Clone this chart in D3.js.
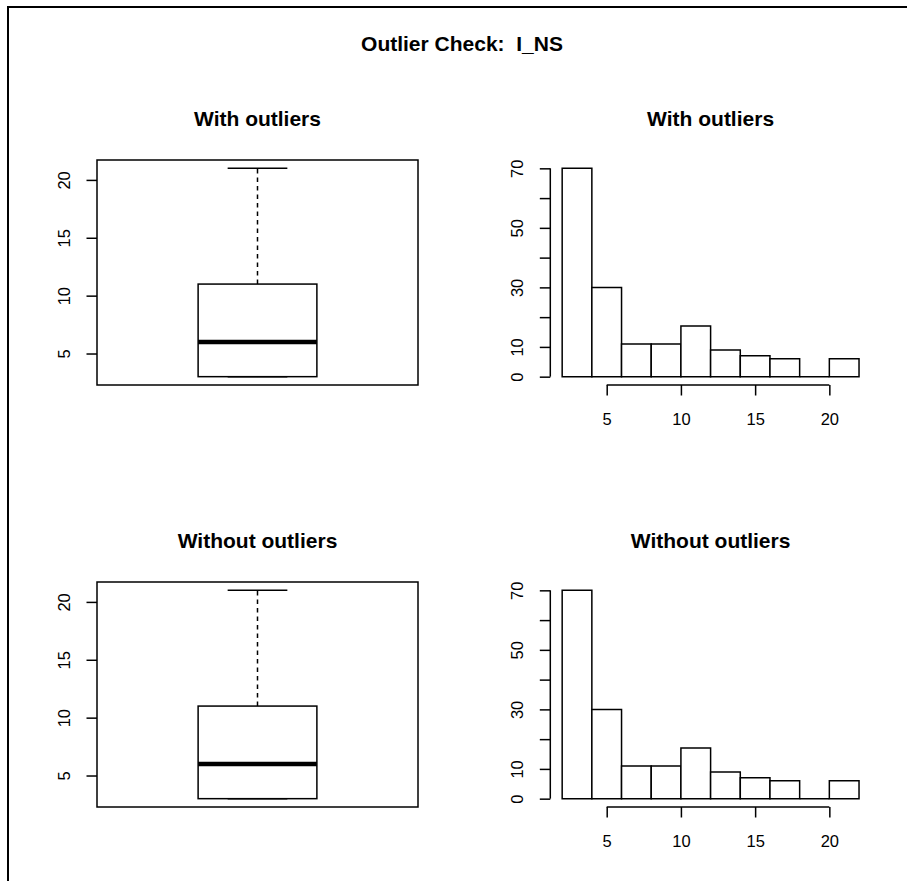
<!DOCTYPE html>
<html>
<head>
<meta charset="utf-8">
<script src="https://cdn.jsdelivr.net/npm/d3@7"></script>
<style>
  body { margin: 0; background: #fff; }
  svg text { font-family: "Liberation Sans", Arial, Helvetica, sans-serif; fill: #000; }
</style>
</head>
<body>
<svg id="viz"></svg>
<script>
var width = 907;
var height = 881;

// ---- data ----
var mainTitle = "Outlier Check:  I_NS";
var panelTitles = ["With outliers", "Without outliers"];

// five-number summaries: lower whisker, Q1, median, Q3, upper whisker
var boxWith = [3, 3, 6, 11, 21];
var boxWithout = [3, 3, 6, 11, 21];
var boxTicks = [5, 10, 15, 20];

// histogram bins
var histBreaks = [2, 4, 6, 8, 10, 12, 14, 16, 18, 20, 22];
var histWith = [70, 30, 11, 11, 17, 9, 7, 6, 0, 6];
var histWithout = [70, 30, 11, 11, 17, 9, 7, 6, 0, 6];
var histYTicks = [0, 10, 20, 30, 40, 50, 60, 70];
var histYLabels = [0, 10, 30, 50, 70];
var histXTicks = [5, 10, 15, 20];

var rows = [
  { title: panelTitles[0], box: boxWith, counts: histWith },
  { title: panelTitles[1], box: boxWithout, counts: histWithout }
];

var rowStep = 422;
var plotTop = 160, plotBottom = 385;
var boxLeft = 97, boxRight = 418;
var histLeft = 550.3, histRight = 870.9;
var tickLen = 10.5;
var lw = 1.5;

var svg = d3.select("#viz")
  .attr("width", width)
  .attr("height", height);

// outer frame (only top and left edges show in the picture)
svg.append("path")
  .attr("d", `M8,${height} L8,7 L${width},7`)
  .attr("fill", "none")
  .attr("stroke", "#000")
  .attr("stroke-width", 2);

svg.append("text")
  .attr("x", 462)
  .attr("y", 51)
  .attr("text-anchor", "middle")
  .style("font-size", "21px")
  .style("font-weight", "bold")
  .style("white-space", "pre")
  .text(mainTitle);

function rotateYLabels(g) {
  g.selectAll(".tick text")
    .attr("x", null)
    .attr("dy", null)
    .attr("y", 0)
    .attr("text-anchor", "middle")
    .attr("transform", "translate(-27,0) rotate(-90)")
    .style("font-size", "16.5px");
}

function styleTicks(g) {
  g.selectAll(".tick line").attr("stroke", "#000").attr("stroke-width", lw);
  g.select(".domain").remove();
}

function drawBoxplot(g, stats, title) {
  var lo = d3.min(stats), hi = d3.max(stats);
  var pad = (hi - lo) * 0.04;
  var y = d3.scaleLinear().domain([lo - pad, hi + pad]).range([plotBottom, plotTop]);
  var x = d3.scaleLinear().domain([0, 1]).range([boxLeft, boxRight]);

  g.append("text")
    .attr("x", (boxLeft + boxRight) / 2)
    .attr("y", 126)
    .attr("text-anchor", "middle")
    .style("font-size", "21px")
    .style("font-weight", "bold")
    .text(title);

  var ax = g.append("g")
    .attr("transform", `translate(${boxLeft},0)`)
    .call(d3.axisLeft(y).tickValues(boxTicks).tickSize(tickLen).tickSizeOuter(0).tickFormat(d3.format("d")));
  styleTicks(ax);
  rotateYLabels(ax);

  var halfBox = 0.185, halfCap = 0.093;
  var stroke = s => s.attr("stroke", "#000").attr("stroke-width", lw).attr("fill", "none");

  // whiskers
  g.append("line").call(stroke)
    .attr("x1", x(0.5)).attr("x2", x(0.5))
    .attr("y1", y(stats[3])).attr("y2", y(stats[4]))
    .attr("stroke-dasharray", "4.5,4");
  g.append("line").call(stroke)
    .attr("x1", x(0.5)).attr("x2", x(0.5))
    .attr("y1", y(stats[0])).attr("y2", y(stats[1]))
    .attr("stroke-dasharray", "4.5,4");
  // staples
  [stats[0], stats[4]].forEach(v => {
    g.append("line").call(stroke)
      .attr("x1", x(0.5 - halfCap)).attr("x2", x(0.5 + halfCap))
      .attr("y1", y(v)).attr("y2", y(v));
  });
  // box
  g.append("rect").call(stroke)
    .attr("x", x(0.5 - halfBox))
    .attr("width", x(0.5 + halfBox) - x(0.5 - halfBox))
    .attr("y", y(stats[3]))
    .attr("height", y(stats[1]) - y(stats[3]));
  // median
  g.append("line")
    .attr("stroke", "#000").attr("stroke-width", 4.5)
    .attr("x1", x(0.5 - halfBox)).attr("x2", x(0.5 + halfBox))
    .attr("y1", y(stats[2])).attr("y2", y(stats[2]));

  // plot frame
  g.append("rect").call(stroke)
    .attr("x", boxLeft).attr("y", plotTop)
    .attr("width", boxRight - boxLeft).attr("height", plotBottom - plotTop);
}

function drawHist(g, counts, title) {
  var b0 = histBreaks[0], b1 = histBreaks[histBreaks.length - 1];
  var xpad = (b1 - b0) * 0.04;
  var x = d3.scaleLinear().domain([b0 - xpad, b1 + xpad]).range([histLeft, histRight]);
  var ymax = d3.max(histYTicks);
  var y = d3.scaleLinear().domain([-ymax * 0.04, ymax * 1.04]).range([plotBottom, plotTop]);

  g.append("text")
    .attr("x", (histLeft + histRight) / 2)
    .attr("y", 126)
    .attr("text-anchor", "middle")
    .style("font-size", "21px")
    .style("font-weight", "bold")
    .text(title);

  // bars as closed paths so an empty bin still shows its outline
  var bins = counts.map((c, i) => ({ x0: histBreaks[i], x1: histBreaks[i + 1], n: c }));
  g.append("g").selectAll("path")
    .data(bins)
    .join("path")
    .attr("d", d => `M${x(d.x0)},${y(0)}V${y(d.n)}H${x(d.x1)}V${y(0)}Z`)
    .attr("fill", "#fff")
    .attr("stroke", "#000")
    .attr("stroke-width", lw);

  // y axis
  var ay = g.append("g")
    .attr("transform", `translate(${histLeft},0)`)
    .call(d3.axisLeft(y).tickValues(histYTicks).tickSize(tickLen).tickSizeOuter(0)
      .tickFormat(d => histYLabels.includes(d) ? d : ""));
  styleTicks(ay);
  rotateYLabels(ay);
  ay.append("line")
    .attr("y1", y(histYTicks[0])).attr("y2", y(ymax))
    .attr("stroke", "#000").attr("stroke-width", lw);

  // x axis
  var ax = g.append("g")
    .attr("transform", `translate(0,${plotBottom})`)
    .call(d3.axisBottom(x).tickValues(histXTicks).tickSize(tickLen).tickSizeOuter(0));
  styleTicks(ax);
  ax.selectAll(".tick text")
    .attr("y", 40)
    .attr("dy", null)
    .style("font-size", "16.5px");
  ax.append("line")
    .attr("x1", x(histXTicks[0])).attr("x2", x(histXTicks[histXTicks.length - 1]))
    .attr("stroke", "#000").attr("stroke-width", lw);
}

rows.forEach(function (r, i) {
  var row = svg.append("g").attr("transform", `translate(0,${i * rowStep})`);
  drawBoxplot(row.append("g"), r.box, r.title);
  drawHist(row.append("g"), r.counts, r.title);
});
</script>
</body>
</html>
